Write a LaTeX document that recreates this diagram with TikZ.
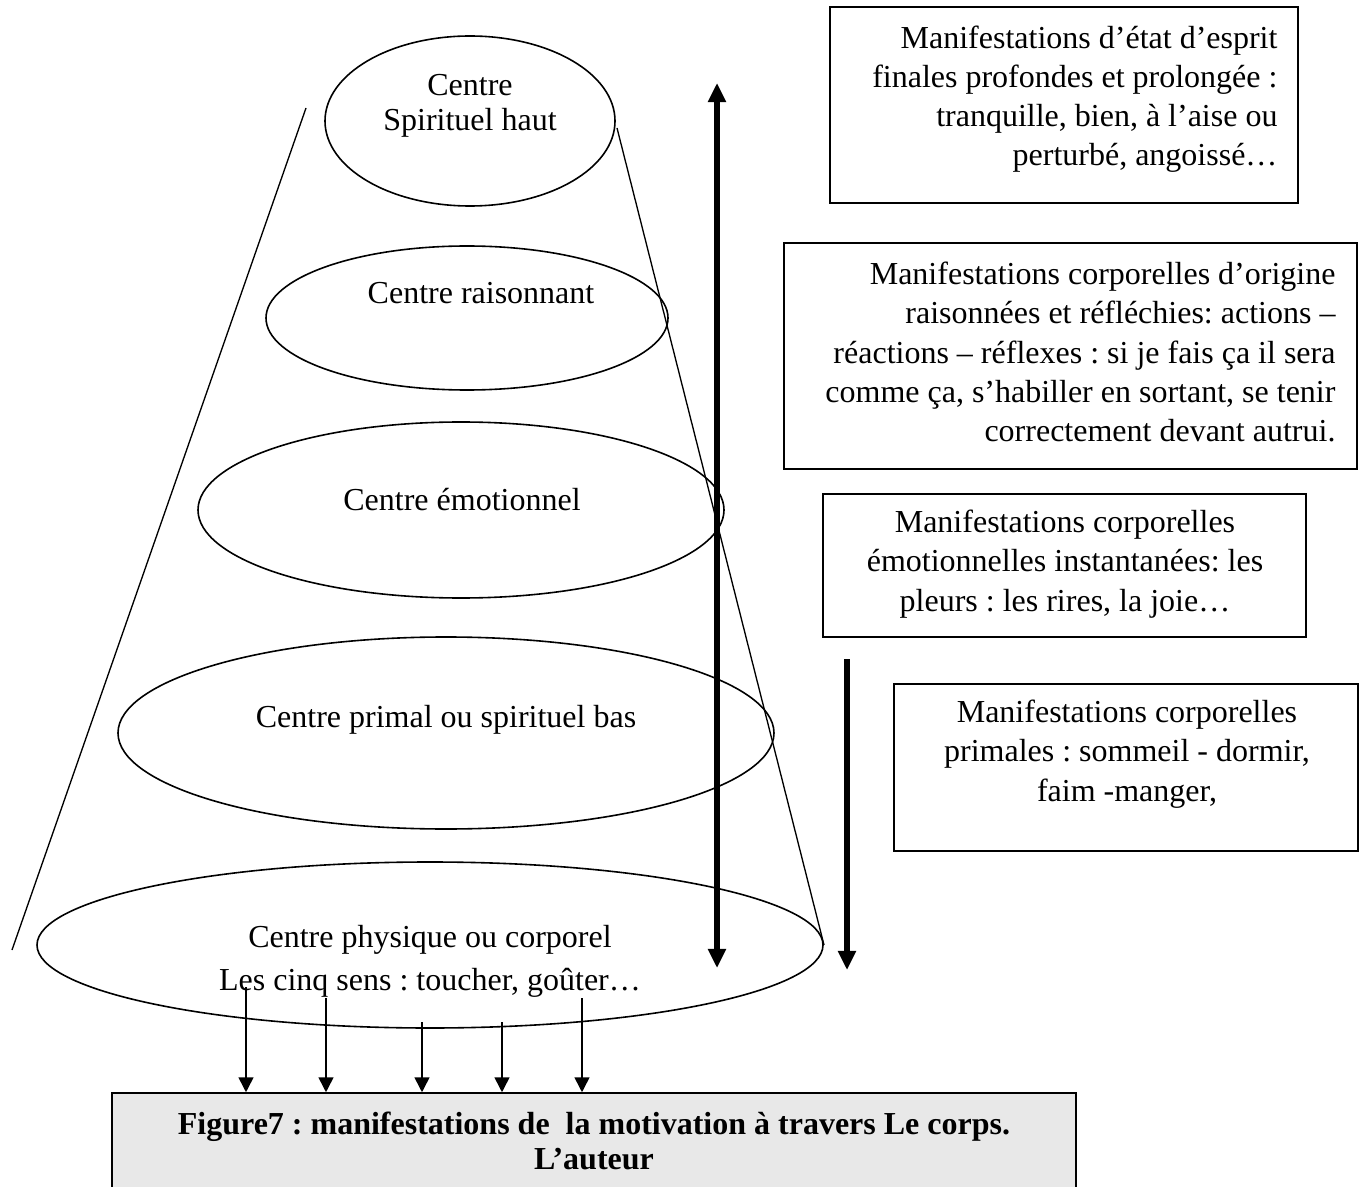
\documentclass[tikz,border=0pt]{standalone}
\usepackage{fontspec}
\setmainfont{Liberation Serif}
\usepackage{tikz}
\usetikzlibrary{shapes.geometric,arrows.meta}
\frenchspacing

\tikzset{
  centre/.style={draw, ellipse, line width=0.6pt, inner sep=0pt},
  manif/.style={draw, rectangle, line width=0.6pt, inner sep=0pt},
  txt/.style={inner sep=0pt, font=\fontsize{12}{14.7}\selectfont},
  cone/.style={line width=0.5pt},
  bigline/.style={line width=1.9pt, >={Triangle[width=6.5pt,length=7.2pt]}},
  smallline/.style={line width=0.6pt, >={Triangle[width=5.6pt,length=5.6pt]}},
}

\begin{document}
\begin{tikzpicture}[x=0.375pt, y=-0.375pt]
\useasboundingbox (0,0) rectangle (1364,1187);

\draw[cone] (306,108) -- (12,950);
\draw[cone] (617,128) -- (824,945);

\node[centre, minimum width=108.75pt, minimum height=63.75pt]  (haut)      at (470,121)  {};
\node[centre, minimum width=150.75pt, minimum height=54pt]     (raison)    at (467,318)  {};
\node[centre, minimum width=197.25pt, minimum height=66pt]     (emotion)   at (461,510)  {};
\node[centre, minimum width=246pt,    minimum height=72pt]     (primal)    at (446,733)  {};
\node[centre, minimum width=294.75pt, minimum height=62.25pt]  (physique)  at (430,945)  {};

\node[txt, align=center, font=\fontsize{12}{13.1}\selectfont] (thaut) at (470,105.5) {Centre\\Spirituel haut};
\node[txt]                                   (traison)   at (481,293)   {Centre raisonnant};
\node[txt]                                   (temotion)  at (462,500)   {Centre émotionnel};
\node[txt]                                   (tprimal)   at (446,720)   {Centre primal ou spirituel bas};
\node[txt, align=center, font=\fontsize{12}{16}\selectfont] (tphysique) at (430,961.5) {Centre physique ou corporel\\Les cinq sens : toucher, goûter…};

\node[manif, minimum width=175.5pt, minimum height=73.5pt]  (etat)     at (1064,105)    {};
\node[manif, minimum width=214.9pt, minimum height=84.75pt] (reflexe)  at (1070.5,356)  {};
\node[manif, minimum width=181.1pt, minimum height=53.6pt]  (pleurs)   at (1064.5,565.5) {};
\node[manif, minimum width=174pt,   minimum height=62.6pt]  (sommeil)  at (1126,767.5)  {};

\node[txt, align=right, anchor=east] (tetat) at (1278,99) {Manifestations d’état d’esprit\\finales profondes et prolongée :\\tranquille, bien, à l’aise ou\\perturbé, angoissé…};
\node[txt, align=right, anchor=east] (treflexe) at (1336,352) {Manifestations corporelles d’origine\\raisonnées et réfléchies: actions –\\réactions – réflexes : si je fais ça il sera\\comme ça, s’habiller en sortant, se tenir\\correctement devant autrui.};
\node[txt, align=center] (tpleurs) at (1065,564) {Manifestations corporelles\\émotionnelles instantanées: les\\pleurs : les rires, la joie…};
\node[txt, align=center] (tsommeil) at (1127,754) {Manifestations corporelles\\primales : sommeil - dormir,\\faim -manger,};

\node[manif, fill=black!9, minimum width=361.5pt, minimum height=40.1pt] (cap) at (594,1146.5) {};
\node[txt, align=center, font=\fontsize{12}{13.1}\selectfont\bfseries] (tcap) at (594,1140.5) {Figure7 : manifestations de~ la motivation à travers Le corps.\\L’auteur};

\coordinate (montee)   at (717,83);
\coordinate (descente) at (717,968);
\coordinate (debut)    at (847,659);
\coordinate (fin)      at (847,970);

\draw[bigline, <->] (montee) -- (descente);
\draw[bigline, ->]  (debut) -- (fin);

\foreach \x/\y [count=\i] in {246/987, 326/998, 422/1022, 502/1022, 582/998} {
  \coordinate (s\i) at (\x,\y);
  \draw[smallline, ->] (s\i) -- (s\i |- cap.north);
}

\end{tikzpicture}
\end{document}
